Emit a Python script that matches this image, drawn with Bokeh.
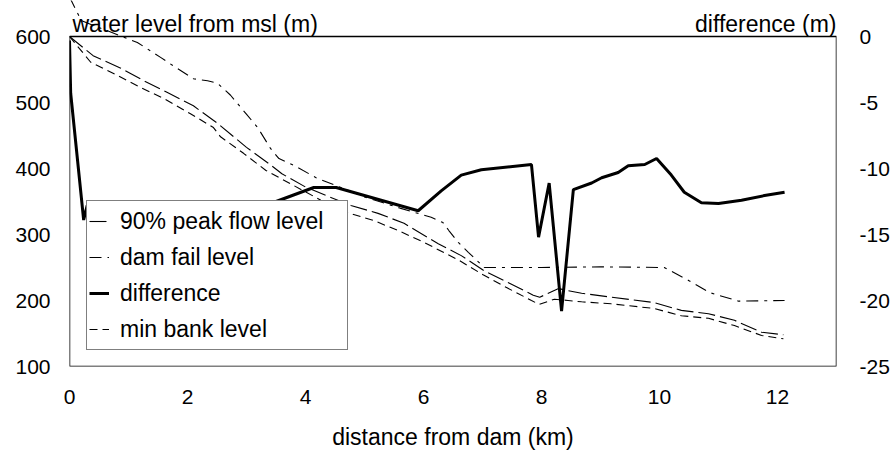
from bokeh.plotting import figure
from bokeh.models import (Range1d, LinearAxis, FixedTicker, Legend, LegendItem, Label,
                          BoxAnnotation, CustomJSTickFormatter)
from bokeh.embed import file_html
from bokeh.resources import INLINE

# ---- data ----
peak_km = [0, 0.4, 0.87, 1.26, 1.66, 2.1, 2.5, 3.0, 3.4, 3.6, 4.0, 4.35, 4.77, 5.23, 5.67,
           6.08, 6.25, 6.64, 7.03, 7.44, 7.86, 7.97, 8.29, 8.45, 8.68, 9.18, 9.9, 10.37,
           10.83, 11.27, 11.73, 12.1]
peak_lvl = [600, 571, 552, 533, 515, 495, 469, 432, 406, 392, 372, 359, 344, 332, 317,
            295, 286, 268, 245, 227, 208, 205, 218, 215, 211, 205, 197, 185,
            180, 170, 152, 148]

bank_km = [0, 0.36, 0.81, 1.2, 1.6, 2.05, 2.44, 2.56, 2.95, 3.33, 4.26, 4.72, 5.16, 5.57,
           6.01, 6.6, 7.01, 7.4, 7.83, 7.96, 8.22, 8.45, 8.68, 9.18, 9.9, 10.37, 10.83,
           11.27, 11.73, 12.1]
bank_lvl = [600, 561, 541, 523, 506, 483, 462, 448, 423, 397, 352, 333, 321, 306,
            288, 261, 239, 220, 200, 194, 202, 200, 198, 195, 188, 177, 173,
            162, 147, 142]

fail_km = [0, 0.2, 1.15, 1.55, 1.75, 2.1, 2.34, 2.51, 2.73, 3.02, 3.19, 3.41, 3.55, 3.8,
           4.18, 5.0, 5.6, 6.13, 6.33, 6.43, 6.59, 6.76, 7.03, 8.0, 9.0, 10.08, 10.5,
           10.85, 11.34, 12.12]
fail_lvl = [660, 624, 591, 568, 556, 536, 533, 529, 511, 480, 462, 430, 415, 405,
            386, 357, 340, 326, 318, 306, 288, 273, 250, 250, 251, 250, 230,
            212, 199, 200]

diff_km = [0, 0.02, 0.24, 0.3, 1.0, 2.0, 3.0, 3.41, 4.14, 4.52, 5.91, 6.3, 6.64, 6.98,
           7.83, 7.95, 8.13, 8.34, 8.54, 8.85, 9.02, 9.3, 9.47, 9.75, 9.95, 10.2, 10.42,
           10.71, 11.0, 11.39, 11.78, 12.12]
diff_val = [-0.3, -4.3, -13.9, -12.8, -12.8, -12.8, -12.7, -12.65, -11.44, -11.44, -13.2,
            -11.7, -10.5, -10.1, -9.7, -15.2, -11.1, -20.8, -11.6, -11.1, -10.7, -10.3,
            -9.8, -9.7, -9.24, -10.5, -11.8, -12.6, -12.65, -12.4, -12.05, -11.8]

x_ticks = [0, 2, 4, 6, 8, 10, 12]
left_ticks = [100, 200, 300, 400, 500, 600]
right_ticks = [-25, -20, -15, -10, -5, 0]

X_MIN, X_MAX = 0, 13
Y_MIN, Y_MAX = 100, 600
D_MIN, D_MAX = -25, 0

FONT = "Liberation Sans"

# frame reaches the top of the canvas; the plotting box is drawn as an annotation
W, H = 892, 455
FRAME_TOP_PX, FRAME_BOTTOM_PX = 36, 366
extra = FRAME_TOP_PX / (FRAME_BOTTOM_PX - FRAME_TOP_PX)
y_top = Y_MAX + (Y_MAX - Y_MIN) * extra
d_top = D_MAX + (D_MAX - D_MIN) * extra

p = figure(width=W, height=H, output_backend="svg", toolbar_location=None,
           x_range=Range1d(X_MIN, X_MAX), y_range=Range1d(Y_MIN, y_top),
           min_border_left=69, min_border_right=55, min_border_top=0,
           min_border_bottom=H - FRAME_BOTTOM_PX)
p.extra_y_ranges = {"diff": Range1d(D_MIN, d_top)}
p.background_fill_color = "white"
p.border_fill_color = "white"
p.outline_line_color = None
p.xgrid.visible = False
p.ygrid.visible = False

minus_fmt = "return tick.toString();"

for ax in [p.xaxis[0], p.yaxis[0]]:
    ax.axis_line_color = None
    ax.major_tick_line_color = None
    ax.minor_tick_line_color = None
    ax.major_label_text_font = FONT
    ax.major_label_text_font_size = "21px"
    ax.major_label_text_color = "black"

p.xaxis[0].ticker = FixedTicker(ticks=x_ticks)
p.xaxis[0].major_label_standoff = 17
p.xaxis[0].axis_label = "distance from dam (km)"
p.xaxis[0].axis_label_text_font = FONT
p.xaxis[0].axis_label_text_font_size = "23px"
p.xaxis[0].axis_label_text_font_style = "normal"
p.xaxis[0].axis_label_text_color = "black"
p.xaxis[0].axis_label_standoff = 17

p.yaxis[0].ticker = FixedTicker(ticks=left_ticks)
p.yaxis[0].major_label_standoff = 13

rax = LinearAxis(y_range_name="diff", ticker=FixedTicker(ticks=right_ticks),
                 formatter=CustomJSTickFormatter(code=minus_fmt))
rax.axis_line_color = None
rax.major_tick_line_color = None
rax.minor_tick_line_color = None
rax.major_label_text_font = FONT
rax.major_label_text_font_size = "21px"
rax.major_label_text_color = "black"
rax.major_label_standoff = 17
p.add_layout(rax, "right")

# plot box
p.add_layout(BoxAnnotation(left=X_MIN, right=X_MAX, bottom=Y_MIN, top=Y_MAX,
                           fill_alpha=0, line_color="black", line_width=1.5,
                           line_alpha=1))

# lines
r_peak = p.line(peak_km, peak_lvl, line_color="black", line_width=1.1, line_dash="17 5")
r_fail = p.line(fail_km, fail_lvl, line_color="black", line_width=1.1, line_dash="12 6 3 6")
r_bank = p.line(bank_km, bank_lvl, line_color="black", line_width=1.1, line_dash="8 5")
r_diff = p.line(diff_km, diff_val, line_color="black", line_width=3, y_range_name="diff")

legend = Legend(items=[
    LegendItem(label="90% peak flow level", renderers=[r_peak]),
    LegendItem(label="dam fail level", renderers=[r_fail]),
    LegendItem(label="difference", renderers=[r_diff]),
    LegendItem(label="min bank level", renderers=[r_bank]),
], location=(17, 16))
legend.label_text_font = FONT
legend.label_text_font_size = "23px"
legend.label_text_color = "black"
legend.label_height = 36
legend.glyph_height = 36
legend.glyph_width = 20
legend.label_standoff = 11
legend.label_width = 225
legend.spacing = 0
legend.padding = 2
legend.margin = 0
legend.border_line_color = "black"
legend.border_line_width = 1.5
legend.background_fill_color = "white"
legend.background_fill_alpha = 1
p.add_layout(legend, "center")

# axis titles at the top
title_y = Y_MAX + (Y_MAX - Y_MIN) * (13 / (FRAME_BOTTOM_PX - FRAME_TOP_PX))
p.add_layout(Label(x=0.05, y=title_y, text="water level from msl (m)", text_font=FONT,
                   text_font_size="23px", text_color="black", text_baseline="middle",
                   text_align="left"))
p.add_layout(Label(x=X_MAX, y=title_y, text="difference (m)", text_font=FONT,
                   text_font_size="23px", text_color="black", text_baseline="middle",
                   text_align="right"))

open("out.html", "w").write(file_html(p, INLINE))
